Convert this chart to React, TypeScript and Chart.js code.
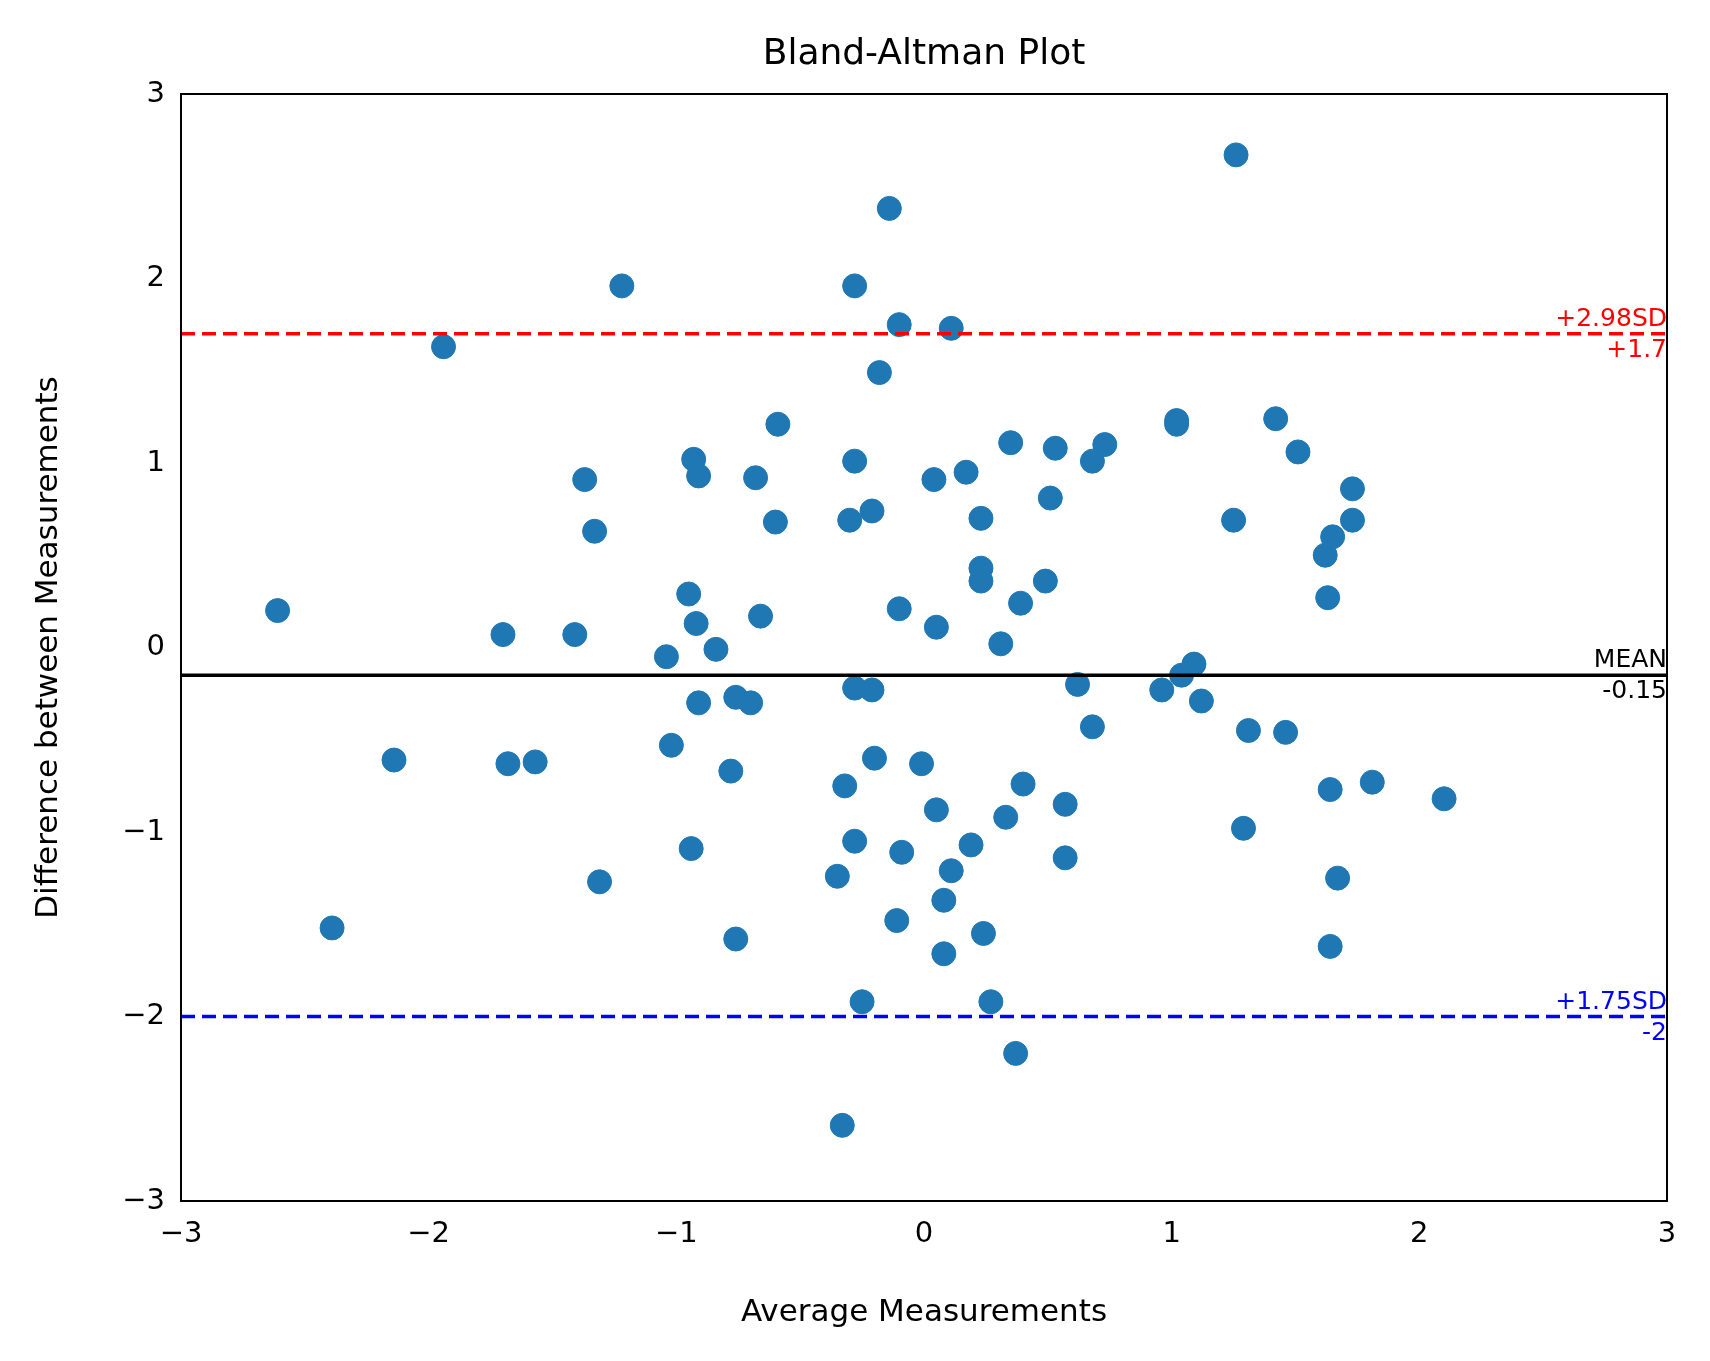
import React, { useEffect, useRef } from "react";
import { Chart, registerables } from "chart.js";
Chart.register(...registerables);

const avgX = [-2.61,-2.39,-2.14,-1.94,-1.70,-1.68,-1.57,-1.41,-1.37,-1.33,-1.31,-1.22,-1.04,-1.02,-0.95,-0.94,-0.93,-0.92,-0.91,-0.91,-0.84,-0.78,-0.76,-0.76,-0.70,-0.68,-0.66,-0.60,-0.59,-0.35,-0.32,-0.33,-0.30,-0.28,-0.28,-0.28,-0.28,-0.25,-0.21,-0.21,-0.20,-0.18,-0.14,-0.11,-0.10,-0.10,-0.09,-0.01,0.04,0.05,0.05,0.08,0.08,0.11,0.11,0.17,0.19,0.23,0.23,0.23,0.24,0.27,0.31,0.33,0.35,0.37,0.39,0.40,0.49,0.51,0.53,0.57,0.57,0.62,0.68,0.68,0.73,0.96,1.02,1.02,1.04,1.09,1.12,1.25,1.26,1.29,1.31,1.42,1.46,1.51,1.62,1.63,1.64,1.64,1.65,1.67,1.73,1.73,1.81,2.10];
const diffY = [0.20,-1.52,-0.61,1.63,0.07,-0.63,-0.62,0.07,0.91,0.63,-1.27,1.96,-0.05,-0.53,0.29,-1.09,1.02,0.13,0.93,-0.30,-0.01,-0.67,-0.27,-1.58,-0.30,0.92,0.17,0.68,1.21,-1.24,-0.75,-2.59,0.69,1.96,1.01,-1.05,-0.22,-1.92,-0.23,0.74,-0.60,1.49,2.38,-1.48,1.75,0.21,-1.11,-0.63,0.91,-0.88,0.11,-1.66,-1.37,1.73,-1.21,0.95,-1.07,0.70,0.43,0.36,-1.55,-1.92,0.02,-0.92,1.11,-2.20,0.24,-0.74,0.36,0.81,1.08,-0.85,-1.14,-0.20,1.01,-0.43,1.10,-0.23,1.23,1.21,-0.15,-0.09,-0.29,0.69,2.67,-0.98,-0.45,1.24,-0.46,1.06,0.50,0.27,-0.77,-1.62,0.60,-1.25,0.86,0.69,-0.73,-0.82];
const meanDiff = -0.15;
const upperLimit = 1.7;
const lowerLimit = -2;
const xRange = [-3, 3];
const tickVals = [-3, -2, -1, 0, 1, 2, 3];

const FONT = "'DejaVu Sans', sans-serif";

export default function App() {
  const ref = useRef<HTMLCanvasElement>(null);
  useEffect(() => {
    document.body.style.margin = "0";
    const labelsPlugin = {
      id: "labels",
      afterDraw(chart: any) {
        const { ctx, chartArea: a, scales } = chart;
        ctx.save();
        ctx.strokeStyle = "#000";
        ctx.lineWidth = 2;
        ctx.strokeRect(a.left, a.top, a.right - a.left, a.bottom - a.top);
        ctx.font = `36px ${FONT}`;
        ctx.fillStyle = "#000";
        ctx.textAlign = "center";
        ctx.textBaseline = "alphabetic";
        ctx.fillText("Bland-Altman Plot", (a.left + a.right) / 2, 64);
        ctx.font = `31px ${FONT}`;
        ctx.textBaseline = "middle";
        ctx.fillText("Average Measurements", (a.left + a.right) / 2, 1313);
        ctx.save();
        ctx.translate(49, (a.top + a.bottom) / 2);
        ctx.rotate(-Math.PI / 2);
        ctx.fillText("Difference between Measurements", 0, 0);
        ctx.restore();
        ctx.font = `25px ${FONT}`;
        ctx.textAlign = "right";
        const lines = [
          { v: upperLimit, c: "#ff0000", top: "+2.98SD", bot: "+1.7" },
          { v: meanDiff, c: "#000000", top: "MEAN", bot: "-0.15" },
          { v: lowerLimit, c: "#0000ff", top: "+1.75SD", bot: "-2" },
        ];
        for (const l of lines) {
          const y = scales.y.getPixelForValue(l.v);
          ctx.fillStyle = l.c;
          ctx.textBaseline = "bottom";
          ctx.fillText(l.top, a.right, y - 2);
          ctx.textBaseline = "top";
          ctx.fillText(l.bot, a.right, y + 4);
        }
        ctx.restore();
      },
    };
    const lineDs = (v: number, c: string, dash: number[]) => ({
      type: "line" as const,
      data: xRange.map((x) => ({ x, y: v })),
      borderColor: c,
      borderWidth: 3.5,
      borderDash: dash,
      pointRadius: 0,
      fill: false,
    });
    const tickCb = (v: any) => String(v).replace("-", "\u2212");
    const chart = new Chart(ref.current!, {
      type: "scatter",
      data: {
        datasets: [
          {
            data: avgX.map((x, i) => ({ x, y: diffY[i] })),
            backgroundColor: "#1f77b4",
            borderColor: "#1f77b4",
            pointRadius: 12,
            order: 2,
          } as any,
          { ...lineDs(meanDiff, "#000000", []), order: 1 },
          { ...lineDs(upperLimit, "#ff0000", [14, 7]), order: 1 },
          { ...lineDs(lowerLimit, "#0000ff", [14, 7]), order: 1 },
        ],
      },
      options: {
        animation: false,
        responsive: false,
        layout: { padding: { top: 94, right: 43, left: 0, bottom: 0 } },
        plugins: { legend: { display: false }, tooltip: { enabled: false } },
        scales: {
          x: {
            type: "linear",
            min: -3,
            max: 3,
            afterBuildTicks: (s: any) => { s.ticks = tickVals.map((v) => ({ value: v })); },
            afterFit: (s: any) => { s.height = 160; },
            grid: { display: false, drawTicks: true, tickLength: 10, tickColor: "#000" },
            border: { display: false },
            ticks: { color: "#000", font: { family: FONT, size: 29 }, padding: 6, callback: tickCb },
          },
          y: {
            type: "linear",
            min: -3,
            max: 3,
            afterBuildTicks: (s: any) => { s.ticks = tickVals.map((v) => ({ value: v })); },
            afterFit: (s: any) => { s.width = 181; },
            grid: { display: false, drawTicks: true, tickLength: 10, tickColor: "#000" },
            border: { display: false },
            ticks: { color: "#000", font: { family: FONT, size: 29 }, padding: 6, callback: tickCb },
          },
        },
      },
      plugins: [labelsPlugin],
    } as any);
    return () => chart.destroy();
  }, []);
  return <canvas ref={ref} width={1710} height={1361} style={{ display: "block" }} />;
}
